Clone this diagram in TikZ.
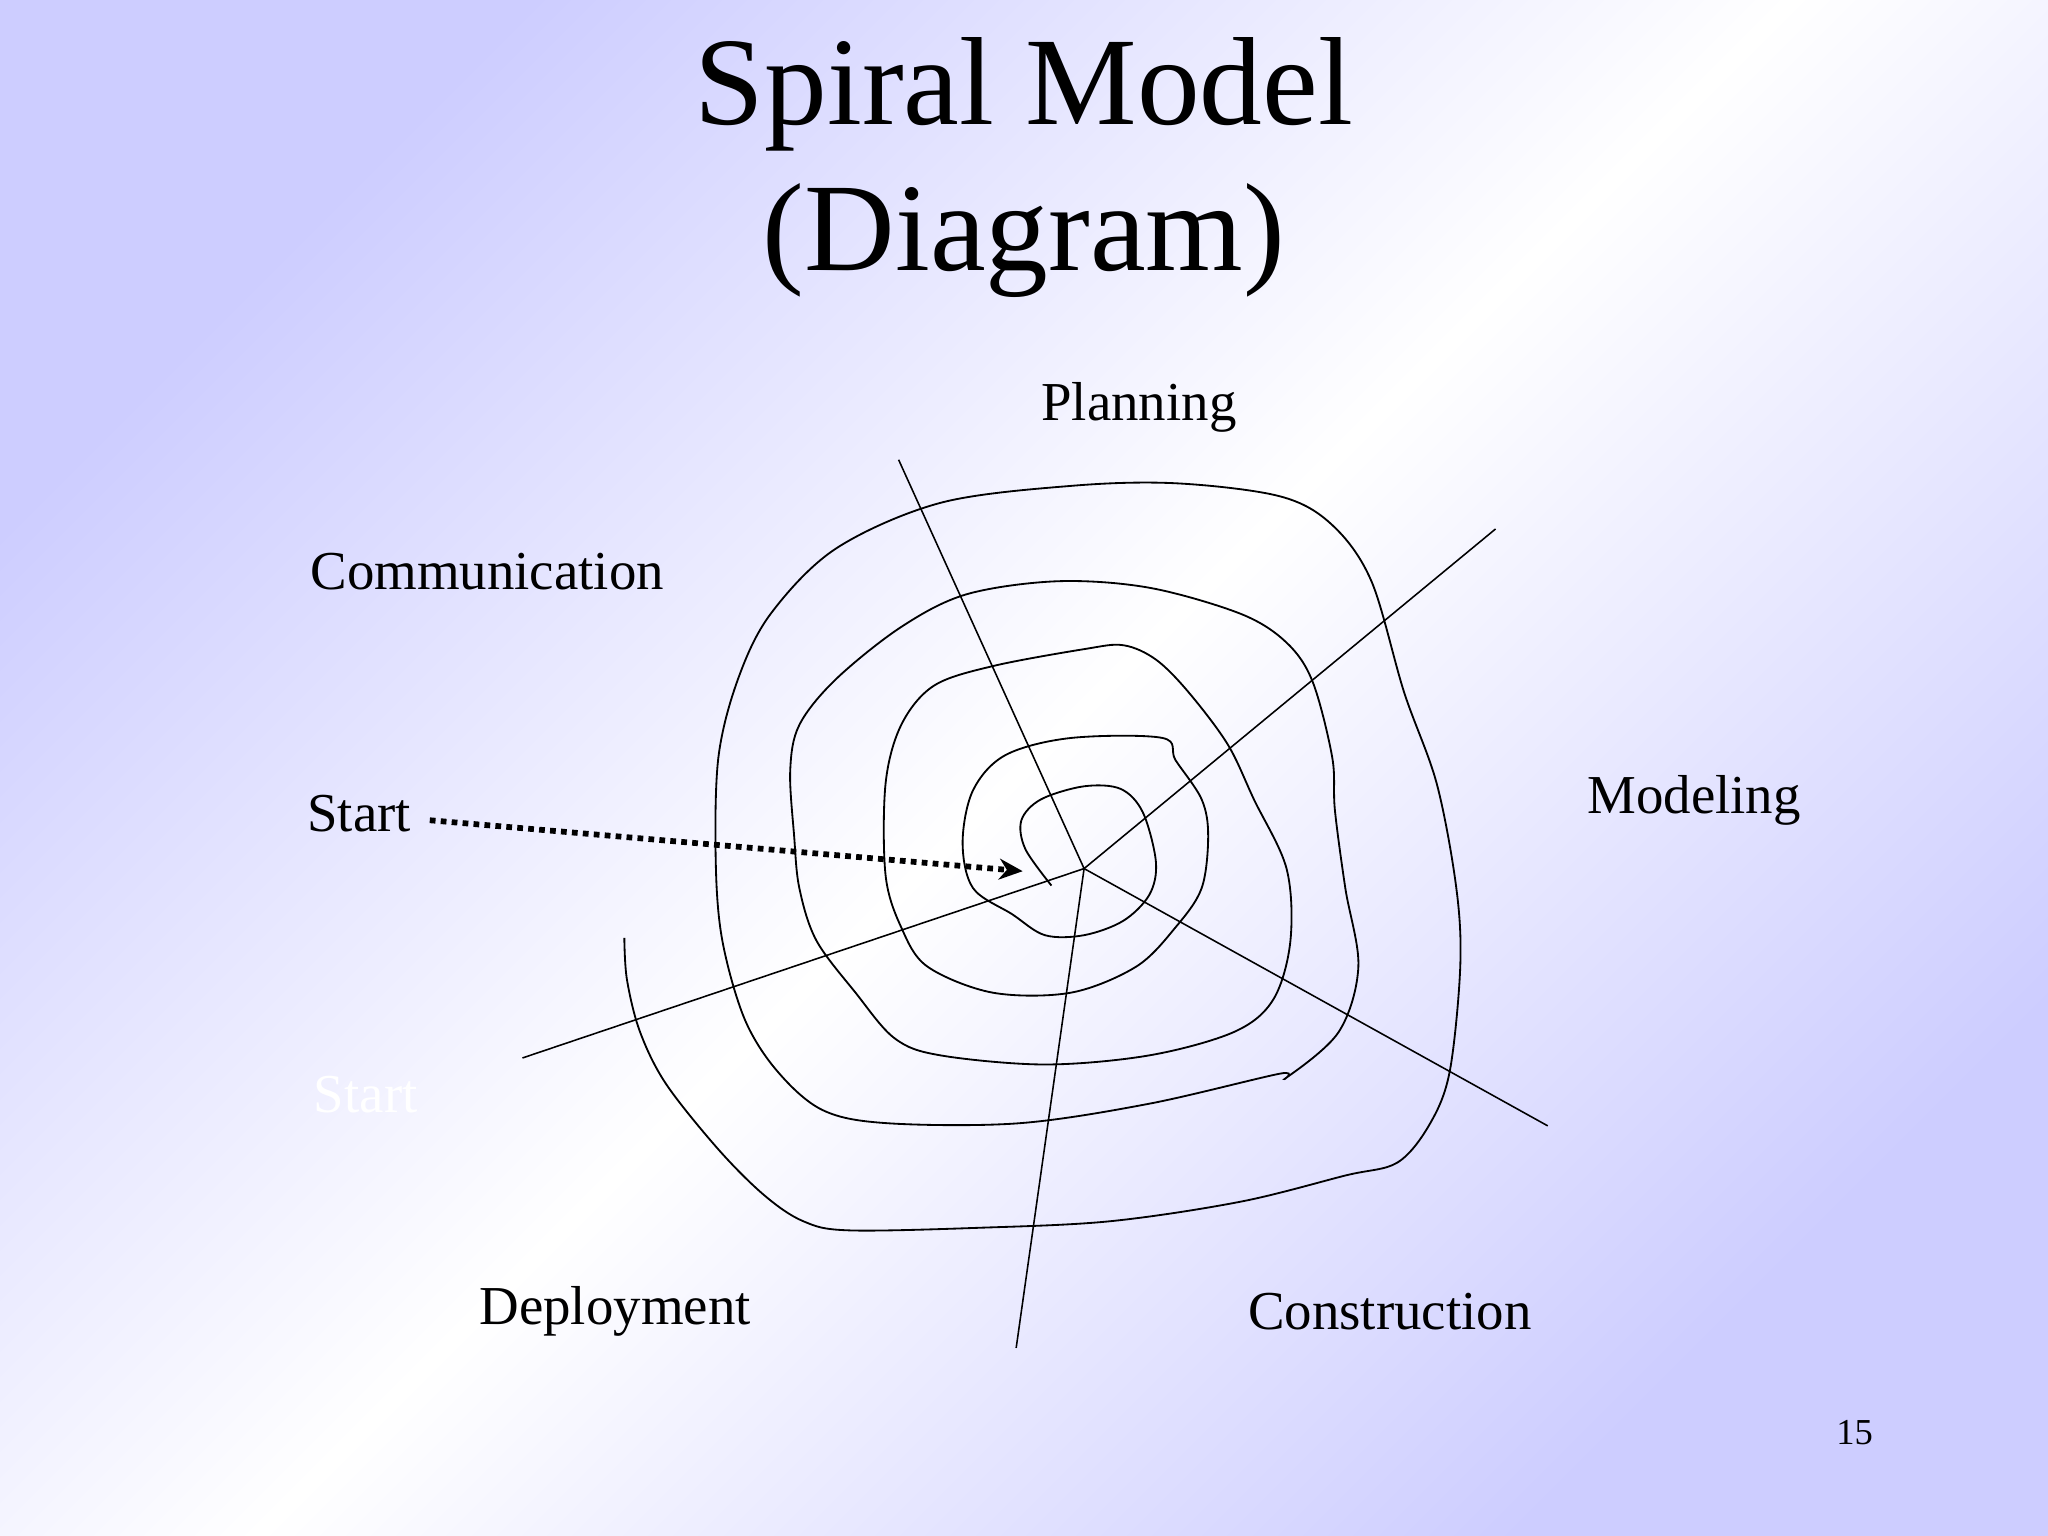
\documentclass[tikz,border=0pt]{standalone}
\usepackage{fontspec}
\setmainfont{Liberation Serif}
\usetikzlibrary{arrows.meta}
\begin{document}
\begin{tikzpicture}[x=0.5pt,y=-0.5pt,
  lbl/.style={font=\fontsize{21}{25}\selectfont, inner sep=0pt},
  axisline/.style={line width=0.6pt},
  spir/.style={line width=0.7pt}]
\useasboundingbox (0,0) rectangle (1568,1176);
\shade[top color={rgb,255:red,205;green,205;blue,255}, bottom color={rgb,255:red,205;green,205;blue,255}, middle color=white, shading angle=45] (0,0) rectangle (1568,1176);
\node[font=\fontsize{48}{56}\selectfont, align=center, inner sep=0pt] (title) at (784,128) {Spiral Model\\(Diagram)};
\node[lbl] (plan) at (872,312) {Planning};
\node[lbl] (comm) at (373,438) {Communication};
\node[lbl] (start) at (275,623) {Start};
\node[lbl] (model) at (1297,613) {Modeling};
\node[lbl, text=white] (start2) at (280,838) {Start};
\node[lbl] (depl) at (471,1004) {Deployment};
\node[lbl] (cons) at (1064,1004) {Construction};
\node[font=\fontsize{14}{16}\selectfont, inner sep=0pt] (num) at (1420,1097) {15};
\coordinate (c) at (830,665);
\coordinate (a1) at (688,352);
\coordinate (a2) at (1145,405);
\coordinate (a3) at (1185,862);
\coordinate (a4) at (778,1032);
\coordinate (a5) at (400,810);
\coordinate (tip) at (783,667);
\draw[axisline] (a1) -- (c) -- (a2);
\draw[axisline] (c) -- (a3);
\draw[axisline] (c) -- (a4);
\draw[axisline] (c) -- (a5);
\draw[spir] plot[smooth, tension=0.55] coordinates {
(805,678)(785,650)(782,628)(797,612)(830,602)(858,604)(875,622)(885,660)(880,685)(860,705)(830,716)(800,716)(775,700)(745,680)(737,645)(745,605)(770,578)(820,565)(890,565)(900,582)(920,612)(925,640)(920,680)(900,710)(870,740)(820,760)(760,760)(710,740)(690,710)(678,670)(678,600)(690,555)(715,525)(760,510)(830,497)(860,494)(885,505)(910,530)(940,570)(960,612)(985,665)(988,720)(975,765)(945,790)(880,808)(800,815)(720,808)(685,795)(655,760)(625,720)(612,680)(608,640)(605,590)(612,555)(640,520)(690,480)(740,455)(810,445)(880,450)(950,470)(985,492)(1005,522)(1020,580)(1022,620)(1030,680)(1040,740)(1025,790)(985,825)(980,822)(880,845)(780,860)(680,860)(630,850)(595,820)(570,780)(553,720)(548,660)(550,580)(565,520)(590,470)(640,420)(720,385)(820,372)(900,370)(980,380)(1020,402)(1050,445)(1075,530)(1100,600)(1115,680)(1118,740)(1110,820)(1095,860)(1070,890)(1030,900)(950,920)(850,935)(750,940)(650,942)(615,935)(585,915)(550,880)(510,830)(490,790)(480,750)(478,718)};
\draw[line width=2.2pt, dotted, -{Stealth[length=9pt,width=8pt]}] (start.east) ++(14,5) -- (tip);
\end{tikzpicture}
\end{document}
